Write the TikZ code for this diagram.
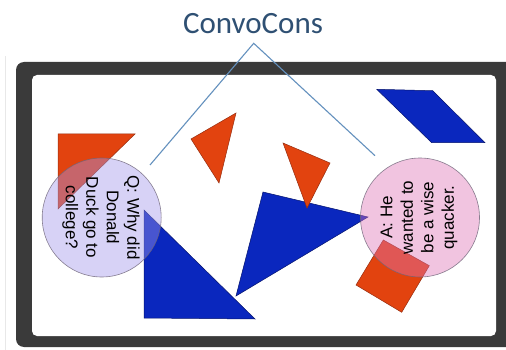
\documentclass[tikz,border=0pt]{standalone}
\usepackage{fontspec}
\setmainfont{Liberation Sans}
\newfontfamily\titlefont{Carlito}
\definecolor{shadowgrey}{RGB}{232,232,232}
\definecolor{framegrey}{RGB}{58,58,58}
\definecolor{shapered}{RGB}{226,67,15}
\definecolor{shapereddark}{RGB}{150,45,15}
\definecolor{shapeblue}{RGB}{10,39,190}
\definecolor{shapebluedark}{RGB}{5,20,110}
\definecolor{bubbleedge}{RGB}{110,100,120}
\definecolor{lavender}{RGB}{160,150,235}
\definecolor{rosepink}{RGB}{222,115,182}
\definecolor{linkblue}{RGB}{100,145,190}
\definecolor{titleblue}{RGB}{47,80,115}
\begin{document}
\begin{tikzpicture}[x=1pt,y=-1pt,
  redshape/.style={fill=shapered, draw=shapereddark, line width=0.5pt},
  blueshape/.style={fill=shapeblue, draw=shapebluedark, line width=0.5pt},
  bubble/.style={circle, minimum size=119pt, inner sep=0pt, draw=bubbleedge, line width=0.6pt, fill opacity=0.42, draw opacity=0.8},
  bubbletext/.style={align=center, font=\fontsize{17}{20.5}\selectfont, text=black, inner sep=0pt},
  link/.style={draw=linkblue, line width=1.1pt}]
\useasboundingbox (0,0) rectangle (506,350);
% screen frame
\draw[shadowgrey, line width=0.8pt] (5,56) -- (5,350);
\fill[framegrey, rounded corners=8pt] (16,62) rectangle (530,347);
\fill[white, rounded corners=5pt] (32,75) rectangle (496,336);
% shapes on the board
\filldraw[redshape] (58,134) -- (135,134) -- (58,209) -- cycle;
\filldraw[redshape] (191,139) -- (236,113) -- (219,183) -- cycle;
\filldraw[blueshape] (376.7,89.3) -- (432.7,90.7) -- (485,142.7) -- (431.7,142.7) -- cycle;
\filldraw[blueshape] (263,192) -- (368,217) -- (236,296) -- cycle;
\filldraw[redshape] (283,143) -- (330,163) -- (307,208) -- cycle;
\filldraw[blueshape] (144,210) -- (144,318) -- (255,319) -- cycle;
\filldraw[redshape] (383.3,240) -- (429.3,265.7) -- (401.7,312.3) -- (356,285) -- cycle;
% speech bubbles: question reads downwards, answer reads upwards
\node[bubble, fill=lavender] (q) at (101.7,217.5) {};
\node[bubble, fill=rosepink] (a) at (420,217.5) {};
\node[bubbletext, rotate=-90] (qtext) at (101,217.5) {Q: Why did\\Donald\\Duck go to\\college?};
\node[bubbletext, rotate=90] (atext) at (419,217.5) {A: He\\wanted to\\be a wise\\quacker.};
% title and its connectors
\node[anchor=base, inner sep=0pt, font=\titlefont\fontsize{31}{31}\selectfont, text=titleblue] (title) at (253,33.3) {ConvoCons};
\coordinate (apex) at (253.7,43.3);
\coordinate (qend) at (150,165);
\coordinate (aend) at (375,155.7);
\draw[link] (qend) -- (apex) -- (aend);
\end{tikzpicture}
\end{document}
